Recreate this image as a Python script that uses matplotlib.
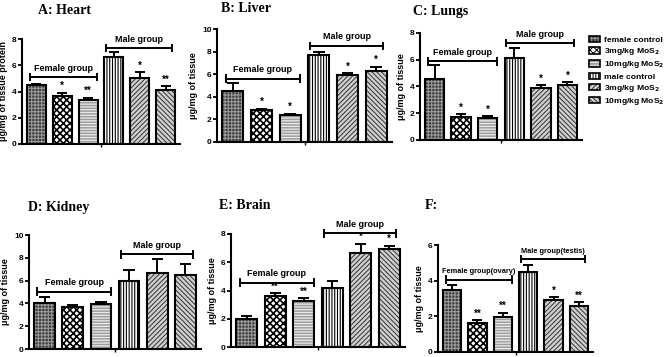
import numpy as np
import matplotlib.pyplot as plt
from matplotlib.patches import Patch
from matplotlib.legend_handler import HandlerTuple

plt.rcParams['font.family'] = ['Liberation Sans', 'DejaVu Sans']
plt.rcParams['font.weight'] = 'bold'
plt.rcParams['hatch.linewidth'] = 0.7

W, H = 669, 357

# Legend labels (same order as the bars)
labels = ["female control", "3mg/kg MoS$_2$", "10mg/kg MoS$_2$",
          "male control", "3mg/kg MoS$_2$", "10mg/kg MoS$_2$"]

# A: Heart
heart_mean = [4.50, 3.68, 3.35, 6.65, 5.05, 4.09]
heart_err = [0.10, 0.22, 0.18, 0.38, 0.41, 0.33]
heart_stars = ["", "*", "**", "", "*", "**"]

# B: Liver
liver_mean = [4.53, 2.81, 2.37, 7.69, 5.89, 6.24]
liver_err = [0.71, 0.15, 0.14, 0.30, 0.18, 0.42]
liver_stars = ["", "*", "*", "", "*", "*"]

# C: Lungs
lungs_mean = [4.55, 1.73, 1.68, 6.10, 3.88, 4.10]
lungs_err = [1.03, 0.20, 0.10, 0.75, 0.20, 0.23]
lungs_stars = ["", "*", "*", "", "*", "*"]

# D: Kidney
kidney_mean = [4.05, 3.72, 3.96, 5.98, 6.63, 6.45]
kidney_err = [0.50, 0.12, 0.14, 0.94, 1.23, 1.05]
kidney_stars = ["", "", "", "", "", ""]

# E: Brain
brain_mean = [1.98, 3.58, 3.29, 4.19, 6.64, 6.92]
brain_err = [0.22, 0.23, 0.15, 0.49, 0.65, 0.26]
brain_stars = ["", "**", "**", "", "*", "*"]

# F: ovary / testis
gonad_mean = [3.50, 1.61, 1.94, 4.49, 2.90, 2.58]
gonad_err = [0.24, 0.17, 0.25, 0.37, 0.17, 0.22]
gonad_stars = ["", "**", "**", "", "*", "**"]

# bar fill, hatch, hatch colour, hatch line width
styles = [
    ('#3a3a3a', '+++++', '#9a9a9a', 0.8),
    ('white', 'xxxxx', 'black', 1.2),
    ('#9c9c9c', '------', '#ececec', 0.9),
    ('white', '||||||', 'black', 0.8),
    ('#d0d0d0', '///////', '#303030', 0.7),
    ('#d0d0d0', '\\\\\\\\\\\\\\', '#303030', 0.7),
]


def make_axes(fig, left, right, top, bottom):
    return fig.add_axes([left / W, 1 - bottom / H, (right - left) / W,
                         (bottom - top) / H])


def hatched_patch(face, hatch, hc, hlw, **kw):
    with plt.rc_context({'hatch.linewidth': hlw}):
        p = Patch(facecolor=face, edgecolor=hc, hatch=hatch, linewidth=0,
                  **kw)
    if hasattr(p, 'set_hatch_linewidth'):
        p.set_hatch_linewidth(hlw)
    return p


def draw_panel(ax, means, errs, stars, ymax, ylabel, fem_y, male_y,
               fem_text="Female group", male_text="Male group", gsize=6.5):
    x = np.arange(len(means))
    width = 0.73
    for i in range(len(means)):
        face, hatch, hc, hlw = styles[i]
        with plt.rc_context({'hatch.linewidth': hlw}):
            bars = ax.bar(x[i], means[i], width, color=face, edgecolor=hc,
                          hatch=hatch, linewidth=0, zorder=2)
        for b in bars:
            if hasattr(b, 'set_hatch_linewidth'):
                b.set_hatch_linewidth(hlw)
        ax.bar(x[i], means[i], width, fill=False, edgecolor='black',
               linewidth=1.5, zorder=3)
    tops = np.array(means) + np.array(errs)
    ax.vlines(x, means, tops, color='black', linewidth=1.4, zorder=4)
    ax.hlines(tops, x - 0.2, x + 0.2, color='black', linewidth=1.4, zorder=4)
    for i, s in enumerate(stars):
        if s:
            ax.text(x[i], tops[i] + ymax * 0.015, s, ha='center', va='bottom',
                    fontsize=7, fontweight='bold')

    # group brackets
    cap = ymax * 0.03
    for (x0, x1), y, txt in [((-0.25, 2.35), fem_y, fem_text),
                             ((2.7, 5.25), male_y, male_text)]:
        ax.plot([x0, x1], [y, y], color='black', lw=1.4, clip_on=False)
        ax.plot([x0, x0], [y - cap, y + cap], color='black', lw=1.4,
                clip_on=False)
        ax.plot([x1, x1], [y - cap, y + cap], color='black', lw=1.4,
                clip_on=False)
        ax.text((x0 + x1) / 2, y + ymax * 0.04, txt, ha='center',
                va='bottom', fontsize=gsize, fontweight='bold')

    ax.set_xlim(-0.55, 5.55)
    ax.set_ylim(0, ymax)
    ax.set_xticks([2.5])
    ax.set_xticklabels([])
    ax.set_yticks(np.arange(0, ymax + 1, 2))
    ax.tick_params(axis='y', labelsize=6, width=1.3, length=3, pad=1)
    ax.tick_params(axis='x', width=1.0, length=2.5)
    for lab in ax.get_yticklabels():
        lab.set_fontweight('bold')
    for side in ['top', 'right']:
        ax.spines[side].set_visible(False)
    for side in ['left', 'bottom']:
        ax.spines[side].set_linewidth(1.5)
    ax.set_ylabel(ylabel, fontsize=6.5, fontweight='bold', labelpad=3)


fig = plt.figure(figsize=(W / 100, H / 100), dpi=100)

ax_a = make_axes(fig, 22, 180, 39, 144)
draw_panel(ax_a, heart_mean, heart_err, heart_stars, 8,
           "μg/mg of tissue protein", 5.08, 7.33)
ax_b = make_axes(fig, 217, 392, 29, 142)
draw_panel(ax_b, liver_mean, liver_err, liver_stars, 10,
           "μg/mg of tissue", 5.6, 8.5)
ax_c = make_axes(fig, 420, 582, 33, 140)
draw_panel(ax_c, lungs_mean, lungs_err, lungs_stars, 8,
           "μg/mg of tissue", 5.88, 7.25)
ax_d = make_axes(fig, 29, 201, 235, 349)
draw_panel(ax_d, kidney_mean, kidney_err, kidney_stars, 10,
           "μg/mg of tissue", 5.04, 8.3)
ax_e = make_axes(fig, 231, 405, 234, 347)
draw_panel(ax_e, brain_mean, brain_err, brain_stars, 8,
           "μg/mg of tissue", 4.56, 8.05)
ax_f = make_axes(fig, 438, 593, 245, 352)
draw_panel(ax_f, gonad_mean, gonad_err, gonad_stars, 6,
           "μg/mg of tissue", 4.06, 5.21,
           fem_text="Female group(ovary)", male_text="Male group(testis)",
           gsize=5.3)

titles = [("A: Heart", 38, 11), ("B: Liver", 221, 9), ("C: Lungs", 413, 11),
          ("D: Kidney", 28, 208), ("E: Brain", 219, 206), ("F:", 425, 206)]
for txt, px, py in titles:
    fig.text(px / W, 1 - py / H, txt, ha='left', va='center',
             fontsize=10, fontweight='bold', family='Liberation Serif')

handles = []
for face, hatch, hc, hlw in styles:
    p1 = hatched_patch(face, hatch, hc, hlw)
    p2 = Patch(facecolor='none', edgecolor='black', linewidth=1.2)
    handles.append((p1, p2))
fig.legend(handles, labels, handler_map={tuple: HandlerTuple()},
           loc='upper left', bbox_to_anchor=(589 / W, 1 - 36 / H),
           frameon=False, handlelength=1.3, handleheight=0.8,
           handletextpad=0.5, labelspacing=0.25, borderaxespad=0,
           borderpad=0, prop={'weight': 'bold', 'size': 6.1})

fig.savefig("out.png", dpi=100)
